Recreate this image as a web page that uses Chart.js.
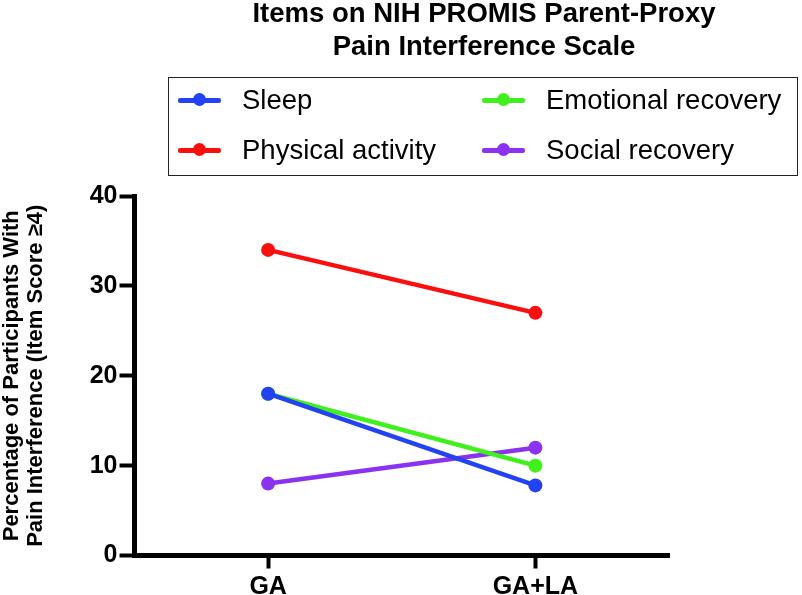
<!DOCTYPE html>
<html>
<head>
<meta charset="utf-8">
<script src="https://cdn.jsdelivr.net/npm/chart.js@4"></script>
<style>
  body { margin:0; background:#fff; font-family:"Liberation Sans", Arial, sans-serif; }
  #wrap { position:relative; width:802px; height:595px; overflow:hidden; }
  #myChart { position:absolute; left:0; top:0; }
  #titulo { position:absolute; left:134px; top:-4px; width:700px; text-align:center;
            font-weight:bold; font-size:27.5px; line-height:33px; color:#000; }
  #leyenda { position:absolute; left:168px; top:77px; width:628px; height:97px;
             border:1.5px solid #222; }
  .item { position:absolute; height:40px; display:flex; align-items:center; font-size:27.5px; color:#000; white-space:nowrap; }
  .marca { position:relative; width:43px; height:14px; margin-right:21px; }
  .marca .linea { position:absolute; left:0; top:4.5px; width:43px; height:5px; border-radius:2px; }
  .marca .punto { position:absolute; left:15px; top:0; width:13px; height:13px; border-radius:50%; }
</style>
</head>
<body>
<div id="wrap">
  <canvas id="myChart" width="802" height="595"></canvas>
  <div id="titulo">Items on NIH PROMIS Parent-Proxy<br>Pain Interference Scale</div>
  <div id="leyenda"></div>
</div>
<script>
// datos
const categorias = ["GA", "GA+LA"];
const seriesNombres = ["Sleep", "Physical activity", "Emotional recovery", "Social recovery"];
const sleep = [18, 7.8];
const physicalActivity = [34, 27];
const emotionalRecovery = [18, 10];
const socialRecovery = [8, 12];
const colores = ["#2342f2", "#fa0f0f", "#40f01c", "#8a32f0"];
const yTicks = [0, 10, 20, 30, 40];
const yTitulo = ["Percentage of Participants With", "Pain Interference (Item Score \u22654)"];

const valores = [sleep, physicalActivity, emotionalRecovery, socialRecovery];

Chart.defaults.font.family = '"Liberation Sans", Arial, sans-serif';
Chart.defaults.color = "#000";

const datasets = seriesNombres.map((nombre, i) => ({
  label: nombre,
  data: valores[i],
  borderColor: colores[i],
  backgroundColor: colores[i],
  pointBackgroundColor: colores[i],
  pointBorderWidth: 0,
  pointRadius: 7,
  borderWidth: 4.5,
  clip: false,
}));

const ctx = document.getElementById("myChart").getContext("2d");
const myChart = new Chart(ctx, {
  type: "line",
  data: { labels: categorias, datasets: datasets },
  options: {
    responsive: false,
    animation: false,
    devicePixelRatio: 1,
    layout: { padding: { left: 0, top: 196, right: 133, bottom: 0 } },
    plugins: { legend: { display: false }, tooltip: { enabled: false } },
    scales: {
      x: {
        offset: true,
        grid: { drawOnChartArea: false, offset: false, tickLength: 13, tickWidth: 4, tickColor: "#000", color: "#000" },
        border: { color: "#000", width: 5 },
        ticks: { font: { size: 25, weight: "bold" }, padding: 4, color: "#000" },
        afterFit: (s) => { s.height = 39.5 },
      },
      y: {
        min: 0,
        max: 40,
        afterBuildTicks: (s) => { s.ticks = yTicks.map((v) => ({ value: v })) },
        grid: { drawOnChartArea: false, tickLength: 15, tickWidth: 4, tickColor: "#000", color: "#000" },
        border: { color: "#000", width: 5 },
        ticks: { font: { size: 25, weight: "bold" }, padding: 2, color: "#000" },
        title: { display: true, text: yTitulo, font: { size: 22, weight: "bold", lineHeight: 1.1 }, padding: { top: 0, bottom: 0 }, color: "#000" },
        afterFit: (s) => { s.width = 134.5 },
      },
    },
  },
});

////////////**********leyenda en html, desde las mismas series*******/////////////////
const leyenda = document.getElementById("leyenda");
const posiciones = [[9, 2], [9, 52], [313, 2], [313, 52]];
seriesNombres.forEach((nombre, i) => {
  const item = document.createElement("div");
  item.className = "item";
  item.style.left = posiciones[i][0] + "px";
  item.style.top = posiciones[i][1] + "px";
  item.innerHTML = `<span class="marca"><span class="linea" style="background:${colores[i]}"></span><span class="punto" style="background:${colores[i]}"></span></span><span>${nombre}</span>`;
  leyenda.appendChild(item);
});
</script>
</body>
</html>
